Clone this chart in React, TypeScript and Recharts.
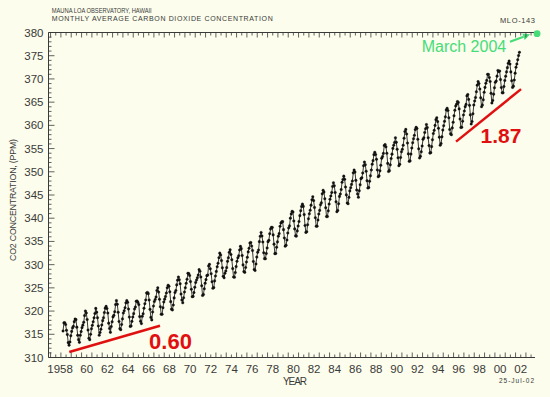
import { LineChart, Line, XAxis, YAxis, ReferenceLine, ReferenceDot } from 'recharts';

// Mauna Loa monthly means (ppm), one row per year, Jan..Dec (null = no value on the plot)
const co2_1950s = [
  [null, null, 315.71, 317.45, 317.5, 317.1, 315.86, 314.93, 313.2, 312.66, 313.33, 314.67], // 1958
  [315.62, 316.38, 316.71, 317.72, 318.29, 318.15, 316.54, 314.8, 313.84, 313.26, 314.8, 315.58], // 1959
];
const co2_1960s = [
  [316.43, 316.97, 317.58, 319.02, 320.03, 319.59, 318.18, 315.91, 314.16, 313.83, 315.0, 316.19],
  [316.93, 317.7, 318.54, 319.48, 320.58, 319.77, 318.57, 316.79, 314.8, 315.38, 316.1, 317.01],
  [317.94, 318.56, 319.68, 320.63, 321.01, 320.55, 319.58, 317.4, 316.26, 315.42, 316.69, 317.69],
  [318.74, 319.08, 319.86, 321.39, 322.25, 321.47, 319.74, 317.77, 316.21, 315.99, 317.12, 318.31],
  [319.57, 320.07, 320.73, 321.77, 322.25, 321.89, 320.44, 318.7, 316.7, 316.79, 317.79, 318.71],
  [319.44, 320.44, 320.89, 322.13, 322.16, 321.87, 321.39, 318.81, 317.81, 317.3, 318.87, 319.42],
  [320.62, 321.59, 322.39, 323.87, 324.01, 323.75, 322.39, 320.37, 318.64, 318.1, 319.79, 321.08],
  [322.07, 322.5, 323.04, 324.42, 325.0, 324.09, 322.55, 320.92, 319.31, 319.31, 320.72, 321.96],
  [322.57, 323.15, 323.89, 325.02, 325.57, 325.36, 324.14, 322.03, 320.41, 320.25, 321.31, 322.84],
  [324.0, 324.42, 325.64, 326.66, 327.34, 326.76, 325.88, 323.67, 322.38, 321.78, 322.85, 324.11],
];
const co2_1970s = [
  [325.03, 325.99, 326.87, 328.13, 328.07, 327.66, 326.35, 324.69, 323.1, 323.16, 323.98, 325.13],
  [326.17, 326.68, 327.18, 327.78, 328.92, 328.57, 327.34, 325.46, 323.36, 323.57, 324.8, 326.01],
  [326.77, 327.63, 327.75, 329.72, 330.07, 329.09, 328.05, 326.32, 324.93, 325.06, 326.5, 327.55],
  [328.54, 329.56, 330.3, 331.5, 332.48, 332.07, 330.87, 329.31, 327.51, 327.18, 328.16, 328.64],
  [329.35, 330.71, 331.48, 332.65, 333.19, 332.2, 331.07, 329.15, 327.33, 327.28, 328.31, 329.58],
  [330.73, 331.46, 331.9, 333.17, 333.94, 333.45, 331.97, 329.95, 328.5, 328.34, 329.37, 330.58],
  [331.59, 332.75, 333.52, 334.64, 334.77, 334.0, 333.06, 330.68, 328.95, 328.75, 330.15, 331.62],
  [332.66, 333.13, 334.95, 336.13, 336.93, 336.17, 334.88, 332.56, 331.29, 331.27, 332.41, 333.6],
  [334.95, 335.25, 336.66, 337.69, 338.03, 338.01, 336.41, 334.41, 332.37, 332.41, 333.75, 334.9],
  [336.14, 336.69, 338.27, 338.96, 339.21, 339.26, 337.54, 335.75, 333.98, 334.19, 335.31, 336.81],
];
const co2_1980s = [
  [337.9, 338.34, 340.01, 340.93, 341.48, 341.33, 339.4, 337.7, 336.19, 336.15, 337.27, 338.32],
  [339.29, 340.55, 341.61, 342.53, 343.03, 342.54, 340.78, 338.44, 336.95, 337.08, 338.58, 339.88],
  [340.96, 341.73, 342.81, 343.97, 344.63, 343.79, 342.32, 340.09, 338.28, 338.29, 339.6, 340.9],
  [341.68, 342.9, 343.33, 345.25, 346.03, 345.63, 344.19, 342.27, 340.35, 340.38, 341.59, 343.05],
  [344.1, 344.79, 345.52, 346.84, 347.63, 346.98, 345.53, 343.55, 341.4, 341.67, 343.1, 344.7],
  [345.21, 346.16, 347.74, 348.34, 349.06, 348.38, 346.72, 345.02, 343.27, 343.13, 344.49, 345.88],
  [346.56, 347.28, 348.01, 349.77, 350.38, 349.93, 348.16, 346.08, 345.22, 344.51, 345.93, 347.21],
  [348.52, 348.73, 349.73, 351.31, 352.09, 351.53, 350.11, 348.08, 346.52, 346.59, 347.96, 349.16],
  [350.39, 351.64, 352.4, 353.69, 354.21, 353.72, 352.69, 350.4, 348.92, 349.13, 350.2, 351.41],
  [352.91, 353.27, 353.96, 355.64, 355.86, 355.37, 353.99, 351.81, 350.05, 350.25, 351.49, 352.85],
];
const co2_1990s = [
  [353.8, 355.04, 355.73, 356.32, 357.32, 356.34, 354.84, 353.01, 351.31, 351.62, 353.07, 354.33],
  [354.84, 355.73, 357.23, 358.66, 359.13, 358.13, 356.19, 353.85, 352.25, 352.35, 353.81, 355.12],
  [356.25, 357.11, 357.86, 359.09, 359.59, 359.33, 357.01, 354.94, 352.96, 353.32, 354.32, 355.57],
  [357.0, 357.31, 358.47, 359.27, 360.19, 359.52, 357.33, 355.64, 354.03, 354.12, 355.41, 356.91],
  [358.24, 358.92, 359.99, 361.23, 361.65, 360.81, 359.38, 357.46, 355.73, 356.08, 357.53, 358.98],
  [359.92, 360.86, 361.83, 363.3, 363.69, 363.19, 361.64, 359.12, 358.17, 357.99, 359.45, 360.68],
  [362.07, 363.24, 364.17, 364.57, 365.13, 364.92, 363.55, 361.38, 359.54, 359.58, 360.89, 362.24],
  [363.09, 364.03, 364.51, 366.35, 366.64, 365.59, 364.31, 362.25, 360.29, 360.82, 362.49, 364.38],
  [365.26, 365.98, 367.24, 368.66, 369.42, 368.99, 367.82, 365.95, 364.02, 364.4, 365.52, 367.13],
  [368.18, 369.07, 369.68, 370.99, 370.96, 370.3, 369.45, 366.9, 364.81, 365.37, 366.72, 368.1],
];
const co2_2000s = [
  [369.29, 369.54, 370.6, 371.82, 371.58, 371.7, 369.86, 368.13, 367.0, 367.03, 368.37, 369.67],
  [370.59, 371.51, 372.43, 373.37, 373.85, 373.21, 371.51, 369.61, 368.18, 368.45, 369.76, 371.24],
  [372.53, 373.2, 374.12, 375.02, 375.76, null, null, null, null, null, null, null], // 2002
];
const FIRST_YEAR = 1958;

// bottom labels (placed mid-year) and y labels
const yearLabels = ['1958', '60', '62', '64', '66', '68', '70', '72', '74', '76', '78', '80',
  '82', '84', '86', '88', '90', '92', '94', '96', '98', '00', '02'];
const yLabels = [310, 315, 320, 325, 330, 335, 340, 345, 350, 355, 360, 365, 370, 375, 380];

// red growth-rate annotations (ppm/yr)
const trendSegments = [
  { label: '0.60', from: { x: 1958.81, y: 311.2 }, to: { x: 1967.59, y: 316.85 } },
  { label: '1.87', from: { x: 1996.24, y: 356.5 }, to: { x: 2002.53, y: 367.8 } },
];
const march2004 = { x: 2004.08, y: 379.75 };
const arrowFrom = { x: 2001.46, y: 378.0 };
const arrowTo = { x: 2003.4, y: 379.6 };

const X_MIN = 1956.8;
const X_MAX = 2003.88;

const BG = '#FCFDEC';
const INK = '#3a3a3a';
const RED = '#E01010';
const GREEN = '#46DC78';
const FONT = '"Liberation Sans", Arial, sans-serif';

const rows = [...co2_1950s, ...co2_1960s, ...co2_1970s, ...co2_1980s, ...co2_1990s, ...co2_2000s];
const data: { x: number; co2: number }[] = [];
rows.forEach((row, i) => {
  row.forEach((v, m) => {
    if (v != null) data.push({ x: FIRST_YEAR + i + (m + 0.5) / 12, co2: v });
  });
});

const xTicks: number[] = [];
for (let t = 1957; t <= 2003.5; t += 0.5) xTicks.push(t);
const yTicks: number[] = [];
for (let t = 310; t <= 380; t++) yTicks.push(t);

const labelFor = (v: number) => {
  const i = Math.round((v - 0.5 - 1958) / 2);
  if (Math.abs(v - (1958.5 + i * 2)) < 0.01 && i >= 0 && i < yearLabels.length) return yearLabels[i];
  return null;
};

const BottomTick = ({ x, y, payload }: any) => {
  const v = payload.value;
  const len = Number.isInteger(v) ? 5 : 3;
  const lbl = labelFor(v);
  return (
    <g>
      <line x1={x} x2={x} y1={y} y2={y - len} stroke={INK} strokeWidth={0.8} />
      {lbl && (
        <text x={lbl === '1958' ? x - 6 : x} y={y + 15} textAnchor="middle" fontSize={11.5} fill={INK} fontFamily={FONT}>
          {lbl}
        </text>
      )}
    </g>
  );
};

const TopTick = ({ x, y, payload }: any) => {
  const len = Number.isInteger(payload.value) ? 5 : 3;
  return <line x1={x} x2={x} y1={y} y2={y + len} stroke={INK} strokeWidth={0.8} />;
};

const LeftTick = ({ x, y, payload }: any) => {
  const v = payload.value;
  const major = yLabels.includes(v);
  return (
    <g>
      <line x1={x} x2={x + (major ? 6 : 3)} y1={y} y2={y} stroke={INK} strokeWidth={0.8} />
      {major && (
        <text x={x - 5} y={y + 4} textAnchor="end" fontSize={11.5} fill={INK} fontFamily={FONT}>
          {v}
        </text>
      )}
    </g>
  );
};

const RightTick = ({ x, y, payload }: any) => {
  const major = yLabels.includes(payload.value);
  return <line x1={x} x2={x - (major ? 6 : 3)} y1={y} y2={y} stroke={INK} strokeWidth={0.8} />;
};

const Arrow = (p: any) => {
  const { x1, y1, x2, y2 } = p;
  const a = Math.atan2(y2 - y1, x2 - x1);
  const h = 7;
  const w = 3.5;
  const bx = x2 - h * Math.cos(a);
  const by = y2 - h * Math.sin(a);
  const pts = `${x2},${y2} ${bx + w * Math.sin(a)},${by - w * Math.cos(a)} ${bx - w * Math.sin(a)},${by + w * Math.cos(a)}`;
  return (
    <g>
      <line x1={x1} y1={y1} x2={bx} y2={by} stroke={GREEN} strokeWidth={2.2} />
      <polygon points={pts} fill={GREEN} />
    </g>
  );
};

export default function App() {
  return (
    <div style={{ position: 'relative', width: 550, height: 397, background: BG, fontFamily: FONT }}>
      <style>{`body{margin:0;background:${BG}}`}</style>
      <LineChart width={550} height={397} data={data} margin={{ top: 31.5, right: 15, bottom: 0, left: 0 }}>
        <XAxis
          dataKey="x"
          type="number"
          domain={[X_MIN, X_MAX]}
          ticks={xTicks}
          interval={0}
          height={39.5}
          tickSize={0}
          tickMargin={0}
          tickLine={false}
          tick={<BottomTick />}
          axisLine={{ stroke: INK }}
          allowDataOverflow
        />
        <XAxis
          xAxisId="top"
          orientation="top"
          dataKey="x"
          type="number"
          domain={[X_MIN, X_MAX]}
          ticks={xTicks}
          interval={0}
          height={1}
          tickSize={0}
          tickMargin={0}
          tickLine={false}
          tick={<TopTick />}
          axisLine={{ stroke: INK }}
          allowDataOverflow
        />
        <YAxis
          type="number"
          domain={[310, 380]}
          ticks={yTicks}
          interval={0}
          width={48.5}
          tickSize={0}
          tickMargin={0}
          tickLine={false}
          tick={<LeftTick />}
          axisLine={{ stroke: INK }}
          allowDataOverflow
        />
        <YAxis
          yAxisId="r"
          orientation="right"
          type="number"
          domain={[310, 380]}
          ticks={yTicks}
          interval={0}
          width={0}
          tickSize={0}
          tickMargin={0}
          tickLine={false}
          tick={<RightTick />}
          axisLine={{ stroke: INK }}
          allowDataOverflow
        />
        <Line
          dataKey="co2"
          stroke="#222"
          strokeWidth={0.9}
          dot={{ r: 1.3, fill: '#111', stroke: '#111', strokeWidth: 0.3 }}
          isAnimationActive={false}
        />
        {trendSegments.map((s) => (
          <ReferenceLine
            key={s.label}
            segment={[s.from, s.to]}
            stroke={RED}
            strokeWidth={2.5}
            ifOverflow="visible"
          />
        ))}
        <ReferenceLine segment={[arrowFrom, arrowTo]} shape={Arrow} ifOverflow="visible" />
        <ReferenceDot x={march2004.x} y={march2004.y} r={3.4} fill={GREEN} stroke="none" ifOverflow="visible" />
      </LineChart>
      <svg width={550} height={397} style={{ position: 'absolute', left: 0, top: 0, pointerEvents: 'none' }}>
        <g fill={INK} fontFamily={FONT}>
          <text x={51.7} y={12.5} fontSize={7.2} textLength={100} lengthAdjust="spacingAndGlyphs">MAUNA LOA OBSERVATORY, HAWAII</text>
          <text x={51.7} y={21} fontSize={7} textLength={221} lengthAdjust="spacing">MONTHLY AVERAGE CARBON DIOXIDE CONCENTRATION</text>
          <text x={500} y={22.5} fontSize={7.5} textLength={35} lengthAdjust="spacing">MLO-143</text>
          <text x={283} y={385} fontSize={10} textLength={24} lengthAdjust="spacing">YEAR</text>
          <text x={499} y={383} fontSize={6.5} textLength={35} lengthAdjust="spacing">25-Jul-02</text>
          <text
            transform="translate(16,200) rotate(-90)"
            textAnchor="middle"
            fontSize={8.8}
            textLength={122}
            lengthAdjust="spacing"
          >
            CO2 CONCENTRATION, (PPM)
          </text>
        </g>
        <text x={170.5} y={349} textAnchor="middle" fontSize={22} fontWeight="bold" fill={RED} fontFamily={FONT}>
          {trendSegments[0].label}
        </text>
        <text x={501} y={143} textAnchor="middle" fontSize={21} fontWeight="bold" fill={RED} fontFamily={FONT}>
          {trendSegments[1].label}
        </text>
        <text x={421.7} y={51.5} fontSize={16} fill={GREEN} fontFamily={FONT}>
          March 2004
        </text>
      </svg>
    </div>
  );
}
